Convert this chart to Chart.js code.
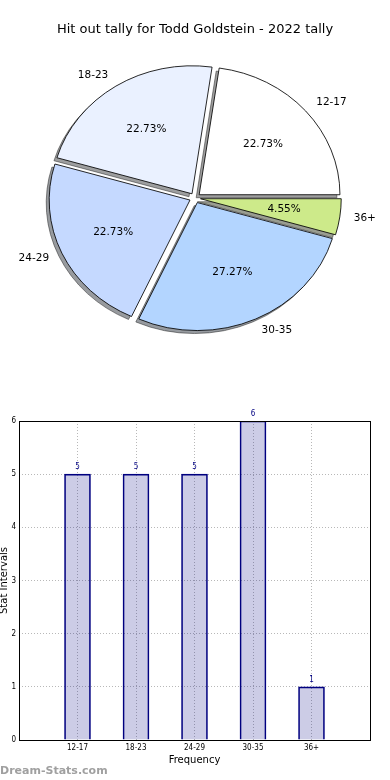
<!DOCTYPE html>
<html>
<head>
<meta charset="utf-8">
<script src="https://cdn.jsdelivr.net/npm/chart.js@4.4.1/dist/chart.umd.min.js"></script>
<style>
  body { margin: 0; background: #fff; }
  canvas { display: block; }
</style>
</head>
<body>
<canvas id="pie" width="390" height="396"></canvas>
<canvas id="bars" width="390" height="384"></canvas>
<script>
// data
const categories = ["12-17", "18-23", "24-29", "30-35", "36+"]
const tally = [5, 5, 5, 6, 1]
const sliceColors = ["#ffffff", "#eaf1ff", "#c5d9ff", "#b3d5ff", "#cdea8a"]
const yTicks = [0, 1, 2, 3, 4, 5, 6]

const titleText = "Hit out tally for Todd Goldstein - 2022 tally"
const stretchX = 1.1   // the pie in the picture is a bit wider than tall
const explodePx = 5

const total = tally.reduce((a, b) => a + b, 0)

// matplotlib goes counter clockwise, chart.js clockwise, so flip the order
const pieLabels = categories.slice().reverse()
const pieValues = tally.slice().reverse()
const pieColors = sliceColors.slice().reverse()

// draw every wedge pushed out along its middle angle
function drawExploded(ctx, arcs, dx, dy) {
  arcs.forEach(a => {
    const mid = (a.startAngle + a.endAngle) / 2
    ctx.save()
    ctx.translate(Math.cos(mid) * explodePx + dx, Math.sin(mid) * explodePx + dy)
    a.draw(ctx)
    ctx.restore()
  })
}

const pieLook = {
  id: "pieLook",
  beforeDatasetsDraw(chart) {
    const ctx = chart.ctx
    const arcs = chart.getDatasetMeta(0).data
    const cx = arcs[0].x, cy = arcs[0].y
    ctx.save()
    ctx.translate(cx, cy)
    ctx.scale(stretchX, 1)
    ctx.translate(-cx, -cy)
    // shadows first, under every wedge
    ctx.save()
    ctx.filter = "brightness(0.25) opacity(0.5)"
    drawExploded(ctx, arcs, -3 / stretchX, 3)
    ctx.restore()
    drawExploded(ctx, arcs, 0, 0)
    ctx.restore()
    return false
  },
  afterDraw(chart) {
    const ctx = chart.ctx
    ctx.save()
    ctx.fillStyle = "#000"
    ctx.textBaseline = "middle"
    ctx.font = "13px 'DejaVu Sans'"
    ctx.textAlign = "center"
    ctx.fillText(titleText, 195, 30)

    ctx.font = "10.5px 'DejaVu Sans'"
    chart.getDatasetMeta(0).data.forEach((a, i) => {
      const mid = (a.startAngle + a.endAngle) / 2
      const r = a.outerRadius
      const c = Math.cos(mid), s = Math.sin(mid)
      // category name outside
      let d = r * 1.1 + explodePx
      let x = a.x + stretchX * c * d
      let y = a.y + s * d
      ctx.textAlign = c >= 0 ? "left" : "right"
      ctx.fillText(pieLabels[i], x, y)
      // percentage inside
      d = r * 0.6 + explodePx
      x = a.x + stretchX * c * d
      y = a.y + s * d
      ctx.textAlign = "center"
      ctx.fillText((pieValues[i] / total * 100).toFixed(2) + "%", x, y)
    })
    ctx.restore()
  }
}

new Chart(document.getElementById("pie"), {
  type: "pie",
  data: {
    labels: pieLabels,
    datasets: [{
      data: pieValues,
      backgroundColor: pieColors,
      borderColor: "#000",
      borderWidth: 0.8
    }]
  },
  options: {
    responsive: false,
    animation: false,
    rotation: 90,
    radius: 128,
    layout: { padding: 0 },
    plugins: { legend: { display: false }, tooltip: { enabled: false }, title: { display: false } }
  },
  plugins: [pieLook]
})

// bar chart, with one empty slot each side like the picture
const barLabels = ["", ...categories, ""]
const barValues = [null, ...tally, null]
const smallFont = { family: "'Liberation Sans Narrow', 'DejaVu Sans Condensed', sans-serif", size: 8 }

const barExtras = {
  id: "barExtras",
  afterDatasetsDraw(chart) {
    const ctx = chart.ctx
    const meta = chart.getDatasetMeta(0)
    ctx.save()
    ctx.font = "8px " + smallFont.family
    ctx.fillStyle = "#000080"
    ctx.textAlign = "center"
    ctx.textBaseline = "bottom"
    meta.data.forEach((bar, i) => {
      if (barValues[i] == null) return
      ctx.fillText(String(barValues[i]), bar.x, bar.y - 3)
    })
    ctx.restore()
  },
  afterDraw(chart) {
    const ctx = chart.ctx
    const a = chart.chartArea
    ctx.save()
    ctx.strokeStyle = "#000"
    ctx.lineWidth = 1
    ctx.strokeRect(a.left + 0.5, a.top + 0.5, a.right - a.left, a.bottom - a.top)
    ctx.font = "bold 11px 'DejaVu Sans'"
    ctx.fillStyle = "#a0a0a0"
    ctx.textAlign = "left"
    ctx.textBaseline = "middle"
    ctx.fillText("Dream-Stats.com", 0, 375)
    ctx.restore()
  }
}

const gridLook = { color: "#b8b8b8", lineWidth: 1, drawTicks: false }

new Chart(document.getElementById("bars"), {
  type: "bar",
  data: {
    labels: barLabels,
    datasets: [{
      data: barValues,
      backgroundColor: "rgba(0,0,128,0.2)",
      borderColor: "#000080",
      borderWidth: 1,
      barThickness: 26
    }]
  },
  options: {
    responsive: false,
    animation: false,
    layout: { padding: { top: 25, right: 20, left: 0, bottom: 0 } },
    plugins: { legend: { display: false }, tooltip: { enabled: false } },
    scales: {
      x: {
        offset: false,
        grid: { ...gridLook, offset: false },
        border: { display: false, dash: [1, 2] },
        ticks: { color: "#000", font: smallFont, padding: 3, maxRotation: 0, autoSkip: false },
        title: { display: true, text: "Frequency", color: "#000", font: { family: "'DejaVu Sans'", size: 10 }, padding: { top: 0, bottom: 14 } },
        afterFit(s) { s.height = 40 }
      },
      y: {
        min: yTicks[0],
        max: yTicks[yTicks.length - 1],
        grid: gridLook,
        border: { display: false, dash: [1, 2] },
        ticks: { stepSize: 1, color: "#000", font: smallFont, padding: 3 },
        title: { display: true, text: "Stat Intervals", color: "#000", font: { family: "'DejaVu Sans'", size: 10 }, padding: { top: -2, bottom: 0 } },
        afterFit(s) { s.width = 19 }
      }
    }
  },
  plugins: [barExtras]
})
</script>
</body>
</html>
